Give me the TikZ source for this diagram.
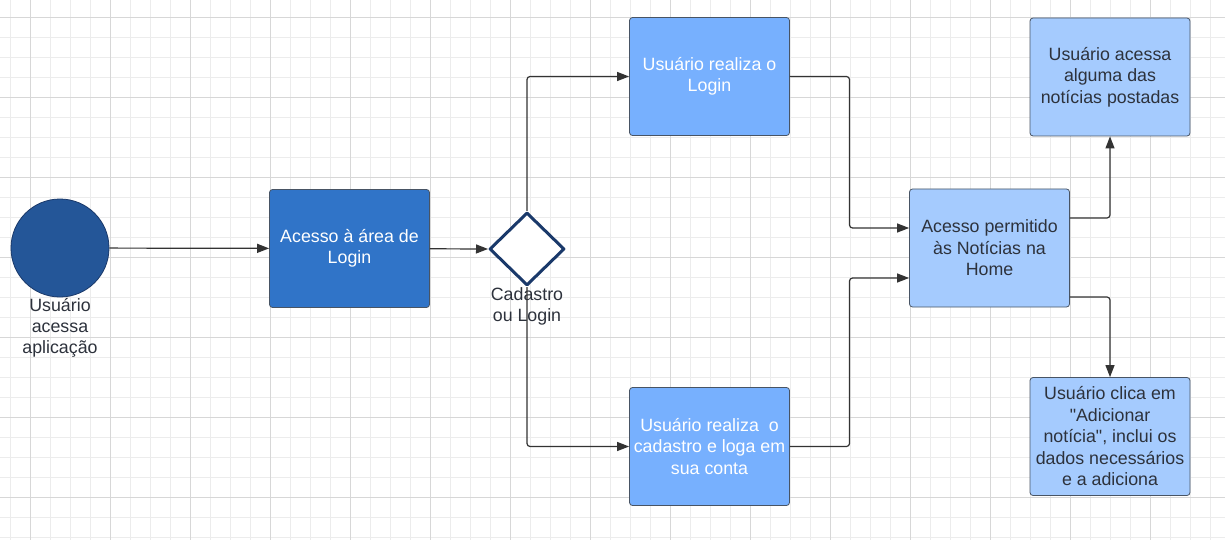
\documentclass[tikz,border=0pt]{standalone}
\usepackage{fontspec}
\setmainfont{Liberation Sans}[Ligatures=TeXOff]
\usetikzlibrary{arrows.meta, shapes.geometric, positioning, calc}
\definecolor{gridminor}{RGB}{236,236,236}
\definecolor{gridmajor}{RGB}{215,215,215}
\definecolor{userblue}{RGB}{36,86,152}
\definecolor{darkblue}{RGB}{48,116,200}
\definecolor{midblue}{RGB}{119,176,254}
\definecolor{lightblue}{RGB}{165,203,254}
\definecolor{navy}{RGB}{26,57,106}
\definecolor{boxborder}{RGB}{72,84,100}
\definecolor{darktext}{RGB}{45,50,60}
\definecolor{arrowgray}{RGB}{51,51,51}
\tikzset{basebox/.style={rectangle, rounded corners=3pt, draw=boxborder, line width=0.8pt, minimum width=160pt, minimum height=118pt, align=center, font=\fontsize{17.8pt}{21.5pt}\selectfont},
darkbox/.style={basebox, fill=darkblue, text=white},
midbox/.style={basebox, fill=midblue, text=white},
lightbox/.style={basebox, fill=lightblue, text=darktext},
caption/.style={align=center, text=darktext, inner sep=1pt, font=\fontsize{17.8pt}{21pt}\selectfont},
flow/.style={draw=arrowgray, line width=1.2pt, rounded corners=3pt, -{Triangle[length=12pt, width=9pt]}}}

\begin{document}
\begin{tikzpicture}[x=1pt, y=-1pt, line join=round]
        \useasboundingbox (0, 0) rectangle (1225, 540);
        \fill[white] (0, 0) rectangle (1225, 540);
        % Grid
        \foreach \x in {10, 30, ..., 1225} {
            \draw[gridminor, line width=0.8pt] (\x, 0) -- (\x, 540);
        }
        \foreach \y in {17.5, 37.5, ..., 540} {
            \draw[gridminor, line width=0.8pt] (0, \y) -- (1225, \y);
        }
        \foreach \x in {30, 110, ..., 1225} {
            \draw[gridmajor, line width=0.8pt] (\x, 0) -- (\x, 540);
        }
        \foreach \y in {17.5, 97.5, ..., 540} {
            \draw[gridmajor, line width=0.8pt] (0, \y) -- (1225, \y);
        }
        % Nodes
        \node[circle, fill=userblue, draw=navy, line width=0.8pt, minimum size=98pt, inner sep=0pt] (user) at (60, 248) {};
        \node[caption, below=0pt of user] (userlbl) {Usuário\\acessa\\aplicação};
        \node[darkbox] (acesso) at (349.5, 248.5) {Acesso à área de\\Login};
        \node[diamond, draw=navy, fill=white, line width=3pt, minimum width=75pt, minimum height=73pt, inner sep=0pt] (escolha) at (527, 249) {};
        \node[caption, below=-1pt of escolha] (escolhalbl) {Cadastro\\ou Login};
        \node[midbox] (login) at (709.5, 76.5) {Usuário realiza o\\Login};
        \node[midbox] (cadastro) at (709.5, 446.5) {Usuário realiza~ o\\cadastro e loga em\\sua conta};
        \node[lightbox] (home) at (989.5, 248) {Acesso permitido\\às Notícias na\\Home};
        \node[lightbox] (noticias) at (1110, 77) {Usuário acessa\\alguma das\\notícias postadas};
        \node[lightbox] (adicionar) at (1110, 436.5) {Usuário clica em\\"Adicionar\\notícia", inclui os\\dados necessários\\e a adiciona};
        % Arrows
        \draw[flow] (user) -- (acesso);
        \draw[flow] (acesso) -- (escolha.west);
        \draw[flow] (escolha.north) |- (login.west);
        \draw[flow] (escolha.south) |- (cadastro.west);
        \draw[flow] (login.east) -| ($(login.east)!0.5!(home.west)$) |- ([yshift=20pt]home.west);
        \draw[flow] (cadastro.east) -| ($(cadastro.east)!0.5!(home.west)$) |- ([yshift=-30pt]home.west);
        \draw[flow] ([yshift=30pt]home.east) -| (noticias.south);
        \draw[flow] ([yshift=-49pt]home.east) -| (adicionar.north);
    \end{tikzpicture}
\end{document}
